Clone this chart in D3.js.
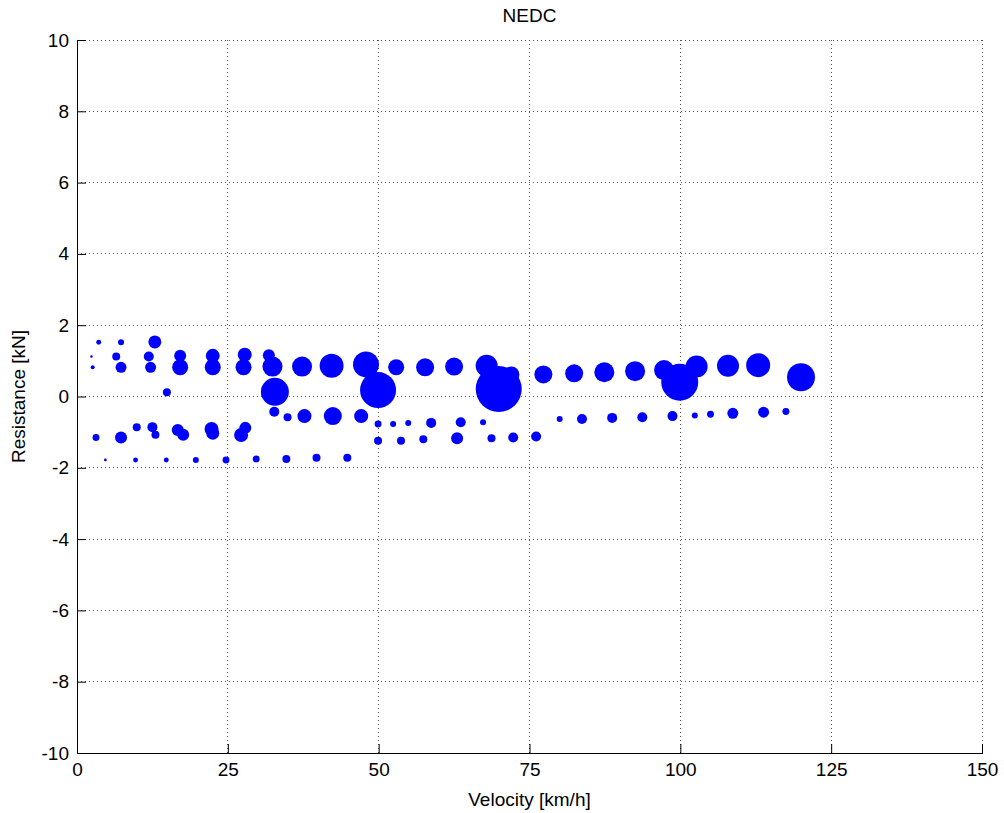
<!DOCTYPE html>
<html>
<head>
<meta charset="utf-8">
<script src="https://cdn.jsdelivr.net/npm/d3@7"></script>
<style>
  body { margin: 0; background: #fff; }
  text { font-family: "Liberation Sans", Arial, sans-serif; }
</style>
</head>
<body>
<script>
// set the dimensions and margins of the graph
var margin = {top: 40, right: 22, bottom: 60, left: 77},
    width = 1004 - margin.left - margin.right,
    height = 813 - margin.top - margin.bottom;

// bubble data: velocity [km/h], resistance [kN], marker area
var velocity = [
  3.6, 7.3, 12.9,
  2.4, 6.5, 11.9, 17.1, 22.5, 27.8, 31.8,
  2.6, 7.3, 12.2, 17.1, 22.5, 27.6, 32.4, 37.3, 42.2, 47.9, 52.9, 57.7, 62.5, 67.9,
  72.0, 77.3, 82.4, 87.4, 92.5, 97.3, 102.7, 107.9, 112.9, 120.0,
  14.9, 32.8, 49.9, 69.9, 99.9,
  32.7, 34.9, 37.7, 42.4, 47.1, 49.9, 52.4, 54.9, 58.7, 63.6, 67.3,
  80.0, 83.7, 88.7, 93.7, 98.7, 102.4, 105.0, 108.7, 113.8, 117.5,
  3.15, 7.3, 9.9, 12.5, 13.0, 16.7, 17.6, 22.3, 22.5, 27.9, 27.2,
  49.9, 53.7, 57.4, 63.0, 68.7, 72.3, 76.1,
  4.7, 9.7, 14.8, 19.7, 24.7, 29.7, 34.7, 39.7, 44.8
];
var resistance = [
  1.52, 1.52, 1.53,
  1.12, 1.12, 1.12, 1.14, 1.14, 1.17, 1.16,
  0.82, 0.82, 0.82, 0.82, 0.82, 0.82, 0.84, 0.84, 0.86, 0.90, 0.82, 0.82, 0.84, 0.86,
  0.62, 0.62, 0.65, 0.68, 0.71, 0.74, 0.84, 0.86, 0.88, 0.54,
  0.12, 0.13, 0.18, 0.21, 0.40,
  -0.43, -0.58, -0.55, -0.55, -0.55, -0.77, -0.77, -0.74, -0.74, -0.72, -0.72,
  -0.63, -0.63, -0.60, -0.58, -0.55, -0.53, -0.50, -0.47, -0.44, -0.42,
  -1.15, -1.15, -0.86, -0.86, -1.07, -0.94, -1.07, -0.91, -1.03, -0.88, -1.08,
  -1.24, -1.24, -1.20, -1.17, -1.17, -1.15, -1.12,
  -1.78, -1.78, -1.78, -1.78, -1.78, -1.75, -1.75, -1.72, -1.72
];
var markerSize = [
  6, 9, 42,
  1.5, 16, 25, 36, 49, 49, 36,
  4, 30, 30, 64, 64, 64, 100, 100, 144, 169, 64, 81, 81, 121,
  64, 81, 81, 100, 100, 100, 121, 121, 144, 196,
  16, 196, 324, 529, 342,
  25, 16, 49, 81, 49, 12, 9, 9, 25, 25, 9,
  9, 25, 25, 25, 25, 9, 12, 30, 30, 12,
  12, 36, 16, 25, 16, 36, 36, 49, 42, 36, 49,
  16, 16, 16, 36, 16, 25, 25,
  2, 6, 6, 9, 12, 12, 16, 16, 16
];

var xTicks = [0, 25, 50, 75, 100, 125, 150];
var yTicks = [-10, -8, -6, -4, -2, 0, 2, 4, 6, 8, 10];

var points = velocity.map(function(v, i) {
    return {v: v, r: resistance[i], s: markerSize[i]};
});

var x = d3.scaleLinear().domain([0, 150]).range([0, width]);
var y = d3.scaleLinear().domain([-10, 10]).range([height, 0]);
var rad = d3.scaleSqrt().domain([0, 529]).range([0, 23]);

// plain hyphen minus, like the original
var plain = function(d) { return String(d); };

var svg = d3.select("body").append("svg")
    .attr("width", width + margin.left + margin.right)
    .attr("height", height + margin.top + margin.bottom)
    .append("g")
    .attr("transform", "translate(" + margin.left + "," + margin.top + ")");

// dotted grid
svg.append("g")
    .selectAll("line")
    .data(xTicks.slice(1))
    .enter()
    .append("line")
    .attr("x1", function(d) { return x(d); })
    .attr("x2", function(d) { return x(d); })
    .attr("y1", 0)
    .attr("y2", height)
    .attr("stroke", "#555")
    .attr("stroke-width", 1)
    .attr("stroke-dasharray", "1,3")
    .attr("shape-rendering", "crispEdges");

svg.append("g")
    .selectAll("line")
    .data(yTicks.slice(1))
    .enter()
    .append("line")
    .attr("x1", 0)
    .attr("x2", width)
    .attr("y1", function(d) { return y(d); })
    .attr("y2", function(d) { return y(d); })
    .attr("stroke", "#555")
    .attr("stroke-width", 1)
    .attr("stroke-dasharray", "1,3")
    .attr("shape-rendering", "crispEdges");

// axes, ticks pointing inward
var xAxis = svg.append("g")
    .attr("transform", "translate(0," + height + ")")
    .call(d3.axisBottom(x).tickValues(xTicks).tickFormat(plain)
        .tickSizeInner(-9).tickSizeOuter(0).tickPadding(10));

var yAxis = svg.append("g")
    .call(d3.axisLeft(y).tickValues(yTicks).tickFormat(plain)
        .tickSizeInner(-9).tickSizeOuter(0).tickPadding(8));

[xAxis, yAxis].forEach(function(a) {
    a.select(".domain").attr("stroke", "#000").attr("shape-rendering", "crispEdges");
    a.selectAll(".tick line").attr("stroke", "#000");
    a.selectAll("text")
        .attr("fill", "#000")
        .style("font-size", "19px")
        .style("font-family", "'Liberation Sans', Arial, sans-serif");
});

// bubbles
svg.append("g")
    .selectAll("circle")
    .data(points)
    .enter()
    .append("circle")
    .attr("cx", function(d) { return x(d.v); })
    .attr("cy", function(d) { return y(d.r); })
    .attr("r", function(d) { return rad(d.s); })
    .attr("fill", "#0000ff");

// labels
svg.append("text")
    .attr("x", width / 2)
    .attr("y", -18)
    .attr("text-anchor", "middle")
    .style("font-size", "19px")
    .text("NEDC");

svg.append("text")
    .attr("x", width / 2)
    .attr("y", height + 53)
    .attr("text-anchor", "middle")
    .style("font-size", "19px")
    .text("Velocity [km/h]");

svg.append("text")
    .attr("transform", "translate(-52," + (height / 2) + ") rotate(-90)")
    .attr("text-anchor", "middle")
    .style("font-size", "19px")
    .text("Resistance [kN]");
</script>
</body>
</html>
